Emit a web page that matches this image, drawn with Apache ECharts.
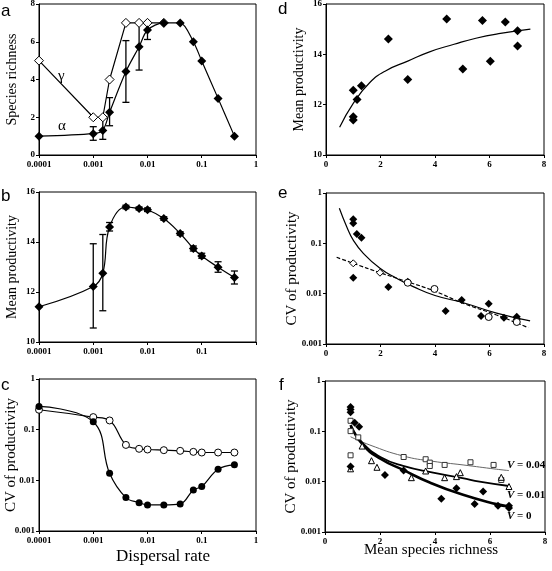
<!DOCTYPE html>
<html><head><meta charset="utf-8">
<script src="https://cdn.jsdelivr.net/npm/echarts@6/dist/echarts.min.js"></script>
<style>html,body{margin:0;padding:0;background:#fff}#c{width:552px;height:571px}</style>
</head><body><div id="c"></div>
<script>
// ---------- DATA ----------
const dispersal = [0.0001, 0.001, 0.0015, 0.002, 0.004, 0.007, 0.01, 0.02, 0.04, 0.07, 0.1, 0.2, 0.4];
// panel a
const gammaRichness = [5, 2, 2, 4, 7, 7, 7, 7, null, null, null, null, null];
const alphaRichness = [1, 1.13, 1.3, 2.26, 4.42, 5.74, 6.62, 7, 7, 6, 4.98, 3, 1];
const alphaErrLow  = [null, 0.78, 0.83, 1.55, 2.79, 4.5, 6.12, null, null, null, null, null, null];
const alphaErrHigh = [null, 1.5, 1.95, 3.04, 6.06, 7.0, 7.05, null, null, null, null, null, null];
// panel b
const productivity = [11.41, 12.22, 12.75, 14.6, 15.4, 15.34, 15.29, 14.94, 14.34, 13.74, 13.44, 12.99, 12.58];
const prodErrLow  = [null, 10.56, 11.25, 14.44, 15.33, 15.28, 15.22, 14.87, 14.27, 13.64, 13.35, 12.79, 12.32];
const prodErrHigh = [null, 13.93, 14.30, 14.78, 15.47, 15.40, 15.36, 15.01, 14.41, 13.84, 13.55, 13.21, 12.84];
// panel c
const cvAlpha = [0.288, 0.143, null, 0.0138, 0.00456, 0.00363, 0.00327, 0.00327, 0.00342, 0.00647, 0.00753, 0.0166, 0.0202];
const cvGamma = [0.247, 0.177, null, 0.152, 0.050, 0.0419, 0.0406, 0.0394, 0.0382, 0.0365, 0.0354, 0.0354, 0.0354];
// panel d
const dRich = [1.0, 1.14, 1.30, 1.0, 1.0, 2.29, 3.0, 4.43, 5.02, 5.74, 6.03, 6.58, 7.03, 7.03];
const dProd = [12.57, 12.21, 12.75, 11.52, 11.39, 14.61, 13.0, 15.40, 13.42, 15.34, 13.73, 15.28, 14.94, 14.33];
const dFitX = [0.5, 1, 1.6, 2.2, 3, 3.8, 4.7, 5.5, 6.4, 7.5];
const dFitY = [11.1, 12.05, 12.87, 13.35, 13.73, 14.1, 14.4, 14.64, 14.83, 15.0];
// panel e
const eRich = [1.0, 1.0, 1.13, 1.30, 1.0, 2.29, 3.0, 4.39, 4.98, 5.69, 5.97, 6.53, 7.0, 7.0];
const eCV = [0.30, 0.25, 0.153, 0.129, 0.0208, 0.0136, 0.0173, 0.00453, 0.00748, 0.0036, 0.00632, 0.00334, 0.00349, 0.0031];
const eOpenRich = [1.0, 1.98, 3.0, 3.98, 5.97, 7.0];
const eOpenCV = [0.0401, 0.0261, 0.0165, 0.0124, 0.00344, 0.00274];
const eOpenShape = ['diamond', 'diamond', 'circle', 'circle', 'circle', 'circle'];
const eFitX = [0.49, 0.76, 1.0, 1.37, 1.98, 2.59, 3.2, 4.0, 5.04, 6.26, 7.49];
const eFitY = [0.497, 0.214, 0.116, 0.0634, 0.0319, 0.0202, 0.0138, 0.0092, 0.0066, 0.0041, 0.00287];
const eDashX = [0.39, 1.0, 1.98, 2.98, 3.94, 5.04, 6.26, 7.42];
const eDashY = [0.0528, 0.0401, 0.0261, 0.0173, 0.0115, 0.00643, 0.00377, 0.00211];
// panel f
const fV0X = [0.93, 0.93, 0.93, 1.08, 1.24, 0.93, 2.18, 2.86, 4.23, 4.78, 5.44, 5.75, 6.29, 6.69, 6.69];
const fV0Y = [0.306, 0.272, 0.240, 0.148, 0.123, 0.0199, 0.0136, 0.0166, 0.00456, 0.00743, 0.00358, 0.00636, 0.00332, 0.00332, 0.00299];
const fV04X = [0.93, 0.93, 0.93, 1.21, 2.86, 3.66, 3.81, 3.81, 4.35, 5.29, 6.13, 6.41];
const fV04Y = [0.162, 0.101, 0.0334, 0.0759, 0.0309, 0.0279, 0.0239, 0.0205, 0.0215, 0.0243, 0.0215, 0.0108];
const fV01X = [0.93, 1.35, 1.69, 1.89, 3.14, 3.66, 4.35, 4.78, 4.92, 6.41, 6.69];
const fV01Y = [0.018, 0.051, 0.0261, 0.0193, 0.0120, 0.0163, 0.0120, 0.0126, 0.0151, 0.0122, 0.0080];
const fFit04X = [0.93, 1.63, 2.84, 3.9, 5.02, 6.23, 6.69];
const fFit04Y = [0.078, 0.0535, 0.0324, 0.0255, 0.0215, 0.0177, 0.0166];
const fFit01X = [0.93, 1.38, 2.03, 2.84, 3.93, 5.0, 5.62, 6.69];
const fFit01Y = [0.123, 0.0577, 0.0305, 0.0205, 0.0151, 0.0118, 0.0100, 0.0082];
const fFit0X = [0.93, 1.38, 2.03, 2.84, 3.81, 5.02, 6.23, 6.69];
const fFit0Y = [0.133, 0.0535, 0.0282, 0.0171, 0.0096, 0.00547, 0.00358, 0.00321];
// tick labels
const logXLabels = ['0.0001', '0.001', '0.01', '0.1', '1'];
const logYLabels = ['0.001', '0.01', '0.1', '1'];
const vLabels = ['V = 0.04', 'V = 0.01', 'V = 0'];

// ---------- CHART ----------
const SERIF = '"Liberation Serif", "Times New Roman", serif';
const SANS = '"Liberation Sans", Arial, sans-serif';
const pairs = (xs, ys) => xs.map((x, i) => [x, ys[i]]).filter(p => p[1] != null);
const errData = (xs, lo, hi) => xs.map((x, i) => [x, lo[i], hi[i]]).filter(d => d[1] != null);

const tickLabel = {color: '#000', fontFamily: SERIF, fontWeight: 'bold', fontSize: 9};
const axLine = {show: true, lineStyle: {color: '#000', width: 1}};
const axTick = {show: true, length: 3, lineStyle: {color: '#000', width: 1}};

function logX(grid, hideLast, name) {
  return {
    type: 'log', logBase: 10, gridIndex: grid, min: 0.0001, max: 1,
    axisLine: axLine, axisTick: axTick, splitLine: {show: false},
    axisLabel: Object.assign({}, tickLabel, {margin: 5, showMinLabel: true, showMaxLabel: true,
      formatter: v => { const k = Math.round(Math.log10(v)) + 4; return (hideLast && k === 4) ? '' : logXLabels[k]; }}),
    name: name || '', nameLocation: 'middle', nameGap: 17, nameMoveOverlap: false,
    nameTextStyle: {fontFamily: SERIF, fontSize: 17, color: '#000', padding: [0, 0, 0, 31]}
  };
}
function linX(grid, name) {
  return {
    type: 'value', gridIndex: grid, min: 0, max: 8, interval: 2,
    axisLine: axLine, axisTick: axTick, splitLine: {show: false},
    axisLabel: Object.assign({}, tickLabel, {margin: 5}),
    name: name || '', nameLocation: 'middle', nameGap: 11, nameMoveOverlap: false,
    nameTextStyle: {fontFamily: SERIF, fontSize: 15, color: '#000', padding: [0, 8, 0, 0]}
  };
}
function yAx(grid, opt, name, gap, fs) {
  return Object.assign({
    gridIndex: grid, axisLine: axLine, axisTick: axTick, splitLine: {show: false},
    axisLabel: Object.assign({}, tickLabel, {margin: 4, showMinLabel: true, showMaxLabel: true}),
    name: name, nameLocation: 'middle', nameGap: gap, nameMoveOverlap: false,
    nameTextStyle: {fontFamily: SERIF, fontSize: fs, color: '#000'}
  }, opt);
}
const logY = {type: 'log', logBase: 10, min: 0.001, max: 1};
function logYAx(grid, name, gap) {
  const a = yAx(grid, logY, name, gap, 15);
  a.axisLabel.formatter = v => logYLabels[Math.round(Math.log10(v)) + 3];
  return a;
}

function errSeries(ax, data) {
  return {
    type: 'custom', xAxisIndex: ax, yAxisIndex: ax, z: 1, data: data,
    encode: {x: 0, y: [1, 2]},
    renderItem: (params, api) => {
      const x = api.value(0);
      const p1 = api.coord([x, api.value(1)]);
      const p2 = api.coord([x, api.value(2)]);
      const w = 3.5, st = {stroke: '#000', lineWidth: 1.3};
      return {type: 'group', children: [
        {type: 'line', shape: {x1: p1[0], y1: p1[1], x2: p2[0], y2: p2[1]}, style: st},
        {type: 'line', shape: {x1: p1[0] - w, y1: p1[1], x2: p1[0] + w, y2: p1[1]}, style: st},
        {type: 'line', shape: {x1: p2[0] - w, y1: p2[1], x2: p2[0] + w, y2: p2[1]}, style: st}
      ]};
    }
  };
}
const filled = {color: '#000', opacity: 1};
const open = {color: '#fff', borderColor: '#000', borderWidth: 1, opacity: 1};
function lineS(ax, data, opts) {
  return Object.assign({
    type: 'line', xAxisIndex: ax, yAxisIndex: ax, data: data, z: 3,
    symbol: 'diamond', symbolSize: 9, itemStyle: filled,
    lineStyle: {color: '#000', width: 1.2}, connectNulls: true, animation: false
  }, opts);
}
function scatterS(ax, data, opts) {
  return Object.assign({
    type: 'scatter', xAxisIndex: ax, yAxisIndex: ax, data: data, z: 4,
    symbol: 'diamond', symbolSize: 8, itemStyle: filled, animation: false
  }, opts);
}
function fitS(ax, data, opts) {
  return Object.assign({
    type: 'line', xAxisIndex: ax, yAxisIndex: ax, data: data, z: 2, smooth: 0.5,
    showSymbol: false, symbol: 'none', lineStyle: {color: '#000', width: 1.2}, animation: false
  }, opts);
}

const grids = [
  {left: 39, top: 4, width: 217, height: 151},
  {left: 39, top: 192, width: 217, height: 150},
  {left: 39, top: 379, width: 217, height: 152},
  {left: 326, top: 4, width: 218, height: 151},
  {left: 326, top: 193, width: 218, height: 151},
  {left: 325, top: 381, width: 220, height: 151}
].map(g => Object.assign(g, {show: true, borderColor: '#000', borderWidth: 1, backgroundColor: 'transparent', outerBoundsMode: 'none', containLabel: false}));

function txt(t, x, y, font, extra) {
  return {type: 'text', x: x, y: y, z: 100, style: Object.assign({text: t, font: font, fill: '#000', textAlign: 'left', textVerticalAlign: 'middle'}, extra || {})};
}
function vText(label, y) {
  return {type: 'text', x: 507, y: y, z: 100, style: {text: '{v|V}{n|' + label.slice(1) + '}',
    rich: {v: {font: 'italic bold 11px ' + SERIF, fill: '#000'}, n: {font: 'bold 11px ' + SERIF, fill: '#000'}}, textVerticalAlign: 'middle'}};
}

const option = {
  animation: false,
  backgroundColor: '#fff',
  grid: grids,
  xAxis: [logX(0), logX(1, true), logX(2, false, 'Dispersal rate'), linX(3), linX(4), linX(5, 'Mean species richness')],
  yAxis: [
    yAx(0, {type: 'value', min: 0, max: 8, interval: 2}, 'Species richness', 20, 14),
    yAx(1, {type: 'value', min: 10, max: 16, interval: 2}, 'Mean productivity', 20, 14),
    logYAx(2, 'CV of productivity', 20),
    yAx(3, {type: 'value', min: 10, max: 16, interval: 2}, 'Mean productivity', 20, 14),
    logYAx(4, 'CV of productivity', 26),
    logYAx(5, 'CV of productivity', 26)
  ],
  series: [
    // a
    errSeries(0, errData(dispersal, alphaErrLow, alphaErrHigh)),
    lineS(0, pairs(dispersal, gammaRichness), {itemStyle: open, z: 2, connectNulls: false}),
    lineS(0, pairs(dispersal, alphaRichness), {smooth: 0.3, z: 3}),
    // b
    errSeries(1, errData(dispersal, prodErrLow, prodErrHigh)),
    lineS(1, pairs(dispersal, productivity), {smooth: 0.4}),
    // c
    lineS(2, pairs(dispersal, cvGamma), {symbol: 'circle', symbolSize: 7, itemStyle: open, smooth: 0.4}),
    lineS(2, pairs(dispersal, cvAlpha), {symbol: 'circle', symbolSize: 7, smooth: 0.4}),
    // d
    fitS(3, pairs(dFitX, dFitY)),
    scatterS(3, pairs(dRich, dProd), {symbolSize: 9}),
    // e
    fitS(4, pairs(eFitX, eFitY)),
    fitS(4, pairs(eDashX, eDashY), {lineStyle: {color: '#000', width: 1.2, type: [4, 2]}}),
    scatterS(4, pairs(eRich, eCV)),
    scatterS(4, eOpenRich.map((x, i) => ({value: [x, eOpenCV[i]], symbol: eOpenShape[i]})), {symbolSize: 7, itemStyle: open}),
    // f
    fitS(5, pairs(fFit04X, fFit04Y), {lineStyle: {color: '#666', width: 1}}),
    fitS(5, pairs(fFit01X, fFit01Y), {lineStyle: {color: '#000', width: 1.8}}),
    fitS(5, pairs(fFit0X, fFit0Y), {lineStyle: {color: '#000', width: 2.6}}),
    scatterS(5, pairs(fV04X, fV04Y), {symbol: 'rect', symbolSize: 5, itemStyle: {color: '#fff', borderColor: '#333', borderWidth: 1, opacity: 1}}),
    scatterS(5, pairs(fV01X, fV01Y), {symbol: 'triangle', symbolSize: 6, itemStyle: {color: '#fff', borderColor: '#000', borderWidth: 1, opacity: 1}}),
    scatterS(5, pairs(fV0X, fV0Y), {symbolSize: 8})
  ],
  graphic: [
    txt('a', 1, 11, '17px ' + SANS),
    txt('b', 1, 196, '17px ' + SANS),
    txt('c', 1, 385, '17px ' + SANS),
    txt('d', 278, 9, '17px ' + SANS),
    txt('e', 278, 193, '17px ' + SANS),
    txt('f', 279, 385, '17px ' + SANS),
    txt('γ', 58, 76, '15px ' + SERIF),
    txt('α', 58, 126, '15px ' + SERIF),
    vText(vLabels[0], 465),
    vText(vLabels[1], 495),
    vText(vLabels[2], 516)
  ]
};
const chart = echarts.init(document.getElementById('c'));
chart.setOption(option);
</script></body></html>
